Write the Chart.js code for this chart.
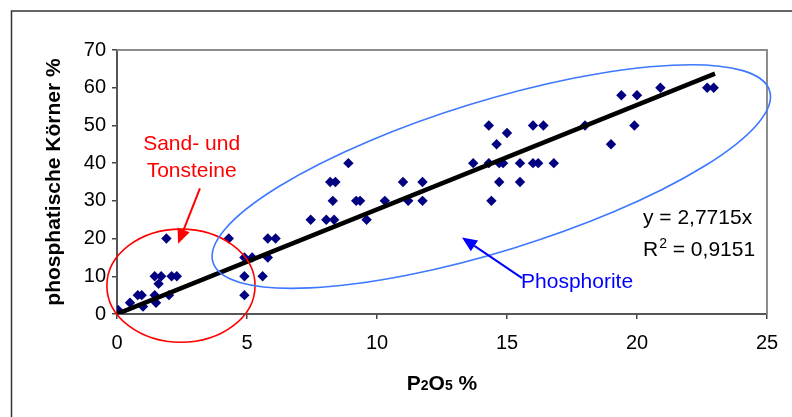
<!DOCTYPE html>
<html>
<head>
<meta charset="utf-8">
<script src="https://cdn.jsdelivr.net/npm/chart.js@4.4.1/dist/chart.umd.min.js"></script>
<style>
html, body { margin: 0; padding: 0; background: #fff; }
</style>
</head>
<body>
<canvas id="chart" width="792" height="417"></canvas>
<script>
// P2O5 % (x) and phosphatische Körner % (y)
const p2o5 = [
    0.05, 0.5, 0.8, 0.95, 1.0, 1.45, 1.7, 1.6, 1.45, 1.5, 2.0, 2.1, 2.3, 1.9,
    4.3, 4.9, 5.2, 4.9, 4.9, 5.6, 5.8, 6.1, 5.8,
    7.45, 8.05, 8.35, 8.3, 8.2, 8.4, 8.9, 9.2, 9.35, 9.6, 10.3, 11.0, 11.2, 11.75, 11.75, 13.7,
    14.3, 15.0, 14.6, 14.3, 14.7, 14.85, 15.5, 16.0, 16.2, 16.8, 14.7, 15.5, 14.4,
    16.0, 16.4, 18.0, 19.0, 19.9, 19.4, 20.0, 20.9, 22.7, 22.95
];
const koerner = [
    1, 3, 5, 5, 2, 10, 10, 8, 5, 3, 5, 10, 10, 20,
    20, 15, 15, 10, 5, 10, 20, 20, 15,
    25, 25, 25, 30, 35, 35, 40, 30, 30, 25, 30, 35, 30, 35, 30, 40,
    50, 48, 45, 40, 40, 40, 40, 40, 40, 40, 35, 35, 30,
    50, 50, 50, 45, 50, 58, 58, 60, 60, 60
];

// linear trendline through origin (y = 2,7715x), drawn from 0 to 23
const trendX = [0, 23];
const trendY = [0, 63.74];

const xTicks = [0, 5, 10, 15, 20, 25];
const yTicks = [0, 10, 20, 30, 40, 50, 60, 70];

// annotations, in data units
const sandEllipse = { cx: 2.46, cy: 7.5, rx: 2.85, ry: 15 };
const phosEllipse = { x1: 3.69, y1: 13.7, x2: 25.1, y2: 59.2, minorPx: 75 };
const sandArrow = { x1: 3.19, y1: 33.3, x2: 2.35, y2: 18.6 };
const phosArrow = { x1: 15.58, y1: 9.5, x2: 13.27, y2: 20.3 };

const points = p2o5.map((x, i) => ({ x: x, y: koerner[i] }));
const trend = trendX.map((x, i) => ({ x: x, y: trendY[i] }));

function arrow(ctx, x1, y1, x2, y2, color) {
    const ang = Math.atan2(y2 - y1, x2 - x1);
    const len = 15, half = 6.5;
    const bx = x2 - Math.cos(ang) * len;
    const by = y2 - Math.sin(ang) * len;
    ctx.strokeStyle = color;
    ctx.fillStyle = color;
    ctx.lineWidth = 2;
    ctx.beginPath();
    ctx.moveTo(x1, y1);
    ctx.lineTo(bx, by);
    ctx.stroke();
    ctx.beginPath();
    ctx.moveTo(x2, y2);
    ctx.lineTo(bx + Math.sin(ang) * half, by - Math.cos(ang) * half);
    ctx.lineTo(bx - Math.sin(ang) * half, by + Math.cos(ang) * half);
    ctx.closePath();
    ctx.fill();
}

const decor = {
    id: 'decor',
    beforeDatasetsDraw(chart) {
        const { ctx, chartArea: a } = chart;
        ctx.save();
        // outer frame
        ctx.strokeStyle = '#333';
        ctx.lineWidth = 1.5;
        ctx.strokeRect(11.5, 11, 900, 600);
        // plot area border top / right
        ctx.strokeStyle = '#8c8c8c';
        ctx.lineWidth = 2;
        ctx.beginPath();
        ctx.moveTo(a.left, a.top);
        ctx.lineTo(a.right, a.top);
        ctx.lineTo(a.right, a.bottom);
        ctx.stroke();
        ctx.restore();
    },
    afterDraw(chart) {
        const { ctx, chartArea: a } = chart;
        const xs = chart.scales.x, ys = chart.scales.y;
        const px = v => xs.getPixelForValue(v);
        const py = v => ys.getPixelForValue(v);
        ctx.save();

        // red ellipse
        ctx.strokeStyle = '#ff0000';
        ctx.lineWidth = 1.6;
        ctx.beginPath();
        ctx.ellipse(px(sandEllipse.cx), py(sandEllipse.cy),
            px(sandEllipse.rx) - px(0), py(0) - py(sandEllipse.ry), 0, 0, Math.PI * 2);
        ctx.stroke();

        // blue ellipse
        const ex1 = px(phosEllipse.x1), ey1 = py(phosEllipse.y1);
        const ex2 = px(phosEllipse.x2), ey2 = py(phosEllipse.y2);
        ctx.strokeStyle = '#3d78ff';
        ctx.beginPath();
        ctx.ellipse((ex1 + ex2) / 2, (ey1 + ey2) / 2, Math.hypot(ex2 - ex1, ey2 - ey1) / 2,
            phosEllipse.minorPx, Math.atan2(ey2 - ey1, ex2 - ex1), 0, Math.PI * 2);
        ctx.stroke();

        arrow(ctx, px(sandArrow.x1), py(sandArrow.y1), px(sandArrow.x2), py(sandArrow.y2), '#ff0000');
        arrow(ctx, px(phosArrow.x1), py(phosArrow.y1), px(phosArrow.x2), py(phosArrow.y2), '#0000ff');

        // labels
        ctx.font = '21px Arial, "Liberation Sans"';
        ctx.fillStyle = '#ff0000';
        ctx.textAlign = 'center';
        ctx.textBaseline = 'alphabetic';
        ctx.fillText('Sand- und', px(2.87), py(43.6));
        ctx.fillText('Tonsteine', px(2.87), py(36.4));

        ctx.fillStyle = '#0000ff';
        ctx.textAlign = 'left';
        ctx.fillText('Phosphorite', px(15.54), py(6.9));

        ctx.fillStyle = '#000';
        const eqX = px(20.23);
        ctx.fillText('y = 2,7715x', eqX, py(23.8));
        const rY = py(15.3);
        ctx.fillText('R', eqX, rY);
        let w = ctx.measureText('R').width;
        ctx.font = '14px Arial, "Liberation Sans"';
        ctx.fillText('2', eqX + w + 1, rY - 8);
        w += ctx.measureText('2').width + 1;
        ctx.font = '21px Arial, "Liberation Sans"';
        ctx.fillText(' = 0,9151', eqX + w, rY);

        // axis titles
        ctx.font = 'bold 21px Arial, "Liberation Sans"';
        ctx.save();
        ctx.translate(60, (a.top + a.bottom) / 2);
        ctx.rotate(-Math.PI / 2);
        ctx.textAlign = 'center';
        ctx.fillText('phosphatische Körner %', 0, 0);
        ctx.restore();

        const parts = [['P', 21], ['2', 14], ['O', 21], ['5', 14], [' %', 21]];
        let total = 0;
        parts.forEach(p => { ctx.font = 'bold ' + p[1] + 'px Arial, "Liberation Sans"'; total += ctx.measureText(p[0]).width; });
        let tx = (a.left + a.right) / 2 - total / 2;
        ctx.textAlign = 'left';
        parts.forEach(p => {
            ctx.font = 'bold ' + p[1] + 'px Arial, "Liberation Sans"';
            ctx.fillText(p[0], tx, 390);
            tx += ctx.measureText(p[0]).width;
        });
        ctx.restore();
    }
};

const config = {
    type: 'scatter',
    data: {
        datasets: [
            {
                label: 'Trend',
                data: trend,
                showLine: true,
                borderColor: '#000',
                borderWidth: 4.5,
                pointRadius: 0,
                order: 0
            },
            {
                label: 'Proben',
                data: points,
                pointStyle: 'rectRot',
                pointRadius: 5.2,
                backgroundColor: '#000080',
                borderColor: '#000080',
                borderWidth: 0,
                order: 1
            }
        ]
    },
    options: {
        responsive: false,
        animation: false,
        devicePixelRatio: 1,
        layout: { padding: { top: 50, right: 25, left: 0, bottom: 0 } },
        plugins: {
            legend: { display: false },
            tooltip: { enabled: false }
        },
        scales: {
            x: {
                type: 'linear',
                min: 0,
                max: 25,
                afterBuildTicks: s => { s.ticks = xTicks.map(v => ({ value: v })); },
                afterFit: s => { s.height = 103; },
                ticks: {
                    color: '#000',
                    font: { family: 'Arial, "Liberation Sans"', size: 20 },
                    padding: 12,
                    maxRotation: 0
                },
                grid: { drawOnChartArea: false, tickLength: 5, color: '#444', lineWidth: 1.5 },
                border: { color: '#555', width: 2 }
            },
            y: {
                type: 'linear',
                min: 0,
                max: 70,
                afterBuildTicks: s => { s.ticks = yTicks.map(v => ({ value: v })); },
                afterFit: s => { s.width = 117; },
                ticks: {
                    color: '#000',
                    font: { family: 'Arial, "Liberation Sans"', size: 20 },
                    padding: 6
                },
                grid: { drawOnChartArea: false, tickLength: 5, color: '#444', lineWidth: 1.5 },
                border: { color: '#555', width: 2 }
            }
        }
    },
    plugins: [decor]
};

new Chart(document.getElementById('chart'), config);
</script>
</body>
</html>
